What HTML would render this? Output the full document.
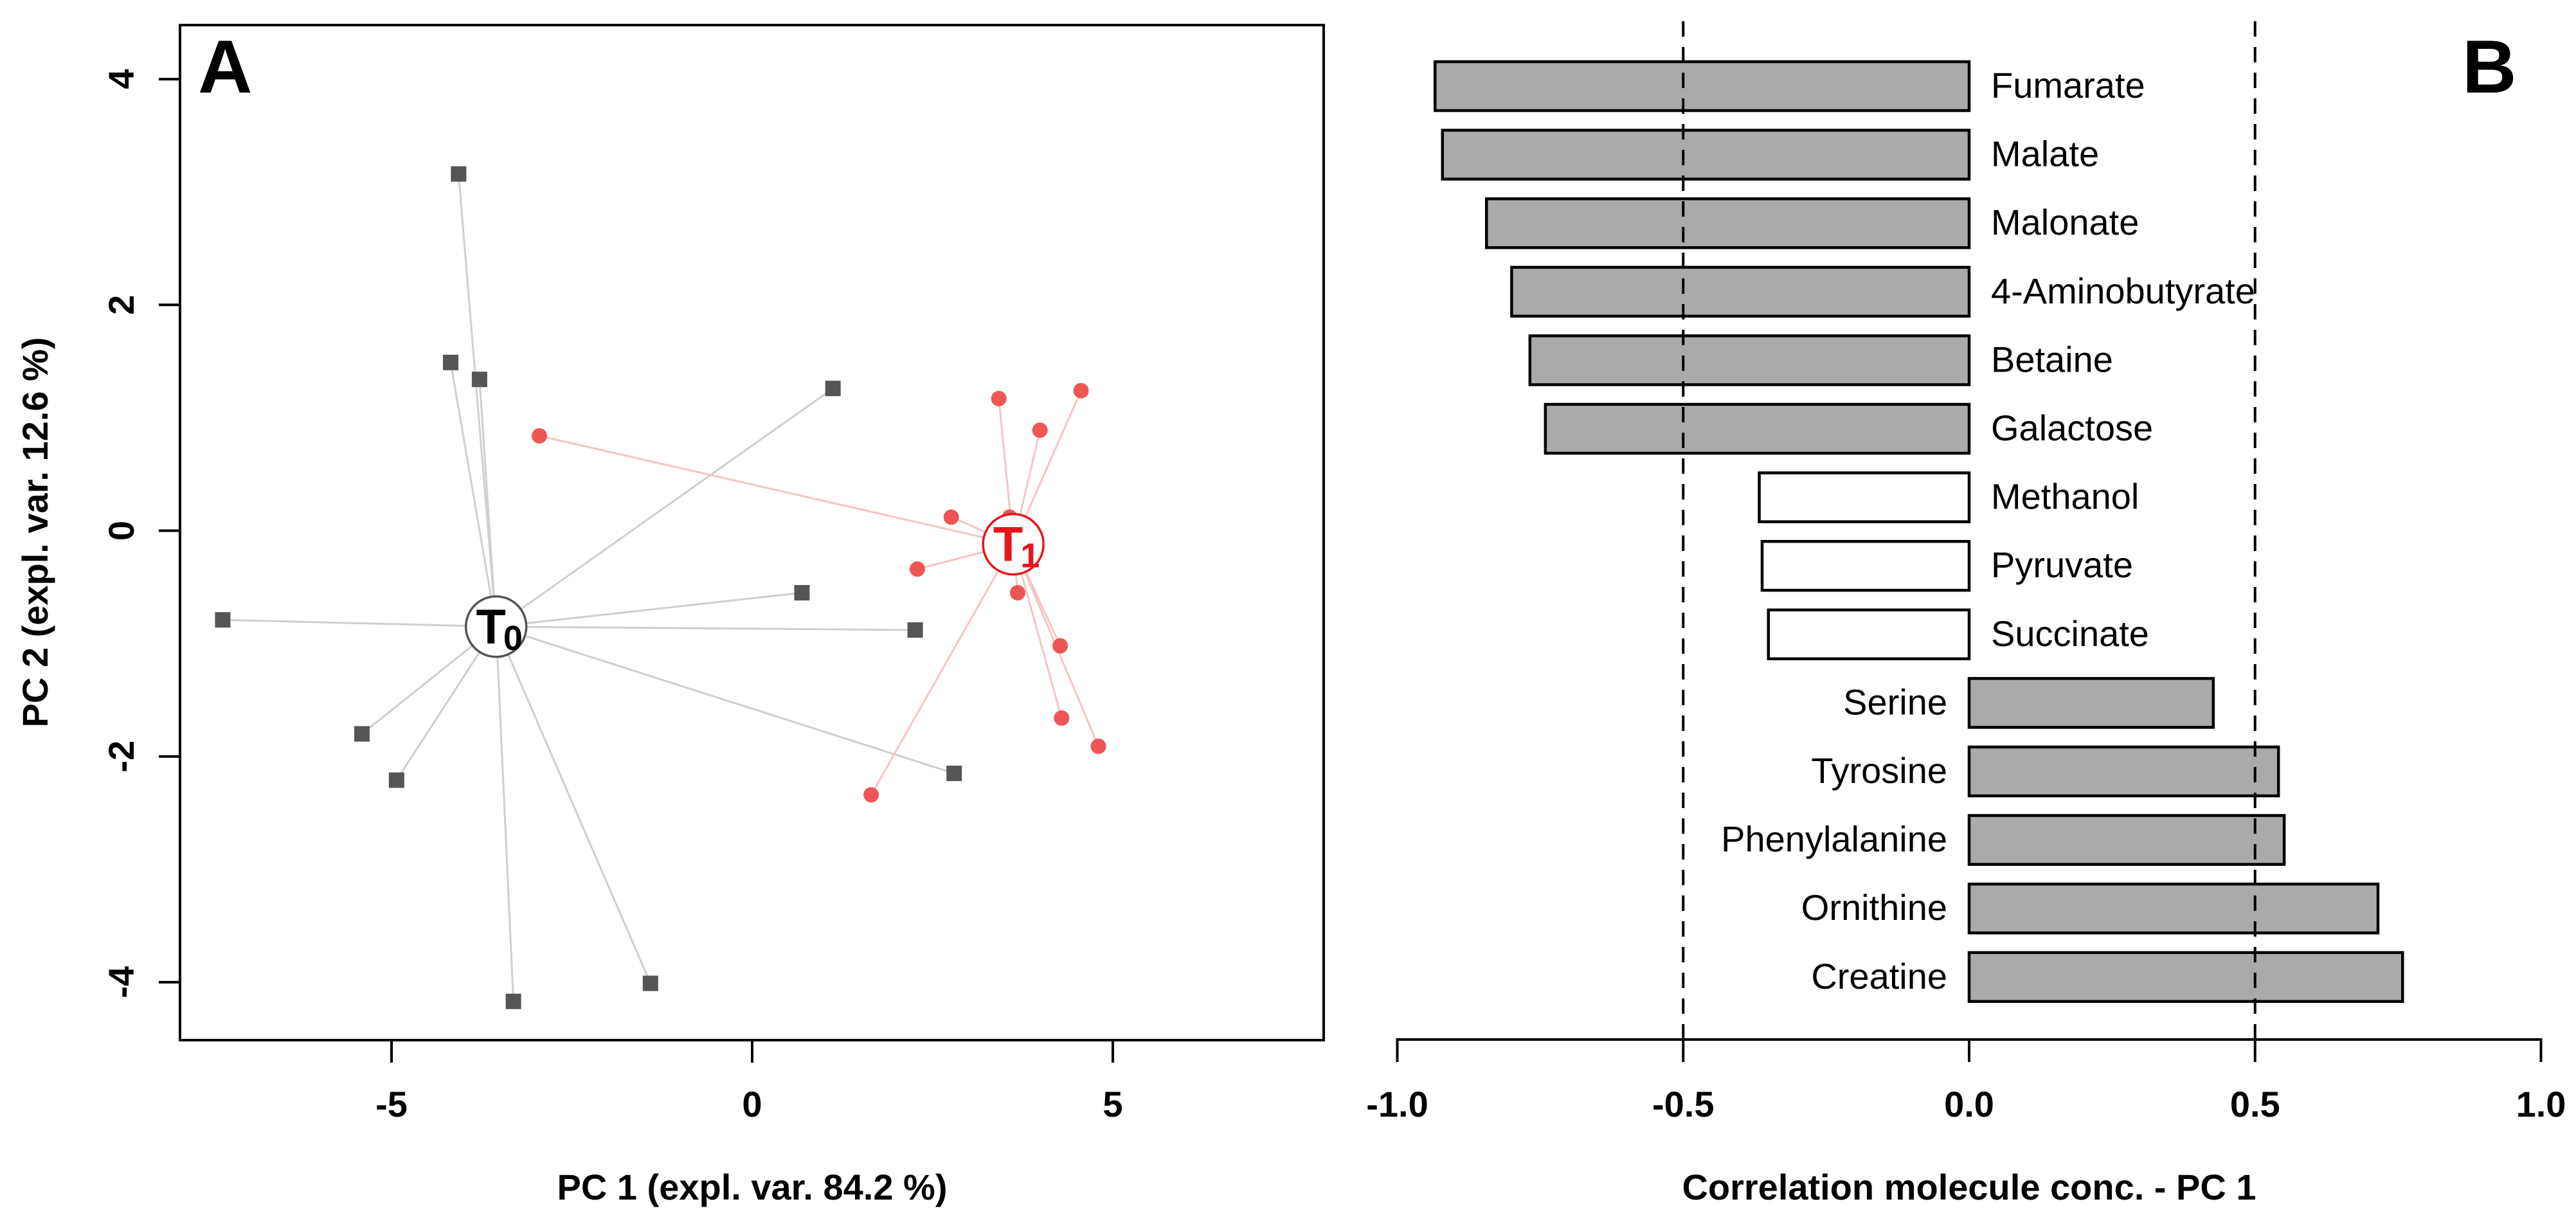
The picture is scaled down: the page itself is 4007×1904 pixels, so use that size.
<!DOCTYPE html>
<html><head><meta charset="utf-8"><style>
html,body{margin:0;padding:0;background:#fff;}
svg{display:block;font-family:"Liberation Sans",Arial,sans-serif;}
</style></head><body>
<svg id="fig" width="4007" height="1904" viewBox="0 0 4007 1904" xmlns="http://www.w3.org/2000/svg">
<g id="panelA"></g>
<g id="panelB"></g>
</svg>
<script>
// ---------- Panel A data ----------
const t0X = [-4.07,-4.18,-3.78,1.12,-7.34,0.69,2.26,-5.41,-4.93,2.80,-1.41,-3.31];
const t0Y = [3.16,1.49,1.34,1.26,-0.79,-0.55,-0.88,-1.80,-2.21,-2.15,-4.01,-4.17];
const t1X = [-2.95,3.42,4.56,3.99,2.76,3.57,2.29,3.68,4.27,4.29,4.80,1.65];
const t1Y = [0.84,1.17,1.24,0.89,0.12,0.12,-0.34,-0.55,-1.02,-1.66,-1.91,-2.34];
const centroidX = [-3.55, 3.62];
const centroidY = [-0.85, -0.12];
const aXTicks = [-5,0,5];
const aYTicks = [4,2,0,-2,-4];
// ---------- Panel B data ----------
const molecules = ["Fumarate","Malate","Malonate","4-Aminobutyrate","Betaine","Galactose","Methanol","Pyruvate","Succinate","Serine","Tyrosine","Phenylalanine","Ornithine","Creatine"];
const correlations = [-0.934,-0.921,-0.844,-0.800,-0.768,-0.741,-0.367,-0.362,-0.351,0.427,0.541,0.551,0.715,0.758];
const significant = [true,true,true,true,true,true,false,false,false,true,true,true,true,true];
const bTicks = [-1.0,-0.5,0.0,0.5,1.0];
const bTickLabels = ["-1.0","-0.5","0.0","0.5","1.0"];
const thresholds = [-0.5,0.5];

const NS="http://www.w3.org/2000/svg";
function mk(parent,tag,attrs,text){const e=document.createElementNS(NS,tag);for(const k in attrs)e.setAttribute(k,attrs[k]);if(text!==undefined)e.textContent=text;parent.appendChild(e);return e;}

// ---------- Panel A ----------
const A=document.getElementById('panelA');
const ax=v=>1170+v*112.2;
const ay=v=>825.5-v*175.6;
t0X.forEach((x,i)=>{const l=mk(A,'line',{x1:ax(centroidX[0]),y1:ay(centroidY[0]),x2:ax(x),y2:ay(t0Y[i]),stroke:'#cfcfcf','stroke-width':3});

});
t1X.forEach((x,i)=>{const l=mk(A,'line',{x1:ax(centroidX[1]),y1:ay(centroidY[1]),x2:ax(x),y2:ay(t1Y[i]),stroke:'#f7c4c4','stroke-width':3});

});
t0X.forEach((x,i)=>{const r=mk(A,'rect',{x:ax(x)-12,y:ay(t0Y[i])-12,width:24,height:24,fill:'#555'});

});
t1X.forEach((x,i)=>{const c=mk(A,'circle',{cx:ax(x),cy:ay(t1Y[i]),r:12,fill:'#f05555'});

});
[["T","0","#000","#555","t0-centroid"],["T","1","#e8141b","#e8141b","t1-centroid"]].forEach((c,i)=>{
  const g=mk(A,'g',{});
  
  
  const cx=ax(centroidX[i]),cy=ay(centroidY[i]);
  mk(g,'circle',{cx:cx,cy:cy,r:47,fill:'#fff',stroke:c[3],'stroke-width':3.5});
  const t=mk(g,'text',{x:cx+3,y:cy+26,'text-anchor':'middle','font-size':76,'font-weight':'bold',fill:c[2],'letter-spacing':'-4'});
  mk(t,'tspan',{},c[0]);
  mk(t,'tspan',{'font-size':54,dy:10},c[1]);
});
const box=mk(A,'rect',{x:280,y:39,width:1779,height:1579,fill:'none',stroke:'#000','stroke-width':4});


aXTicks.forEach(v=>{mk(A,'line',{x1:ax(v),y1:1618,x2:ax(v),y2:1653,stroke:'#000','stroke-width':4});
const t=mk(A,'text',{x:ax(v),y:1737,'text-anchor':'middle','font-size':56,'font-weight':'bold'},String(v));

});
aYTicks.forEach(v=>{mk(A,'line',{x1:247,y1:ay(v),x2:280,y2:ay(v),stroke:'#000','stroke-width':4});
const t=mk(A,'text',{x:0,y:0,'text-anchor':'middle','font-size':56,'font-weight':'bold',transform:`translate(208,${ay(v)}) rotate(-90)`},String(v));

});
let tt=mk(A,'text',{x:1170,y:1866,'text-anchor':'middle','font-size':56,'font-weight':'bold'},'PC 1 (expl. var. 84.2 %)');


tt=mk(A,'text',{x:0,y:0,'text-anchor':'middle','font-size':56,'font-weight':'bold',transform:'translate(74,828) rotate(-90)'},'PC 2 (expl. var. 12.6 %)');


tt=mk(A,'text',{x:308,y:144,'font-size':117,'font-weight':'bold'},'A');



// ---------- Panel B ----------
const B=document.getElementById('panelB');
const bx=v=>3063+v*889.5;
const by=i=>134+i*106.6;
const barH=76;
molecules.forEach((m,i)=>{
  const v=correlations[i];
  const x0=Math.min(bx(0),bx(v)), w=Math.abs(bx(v)-bx(0));
  const r=mk(B,'rect',{x:x0,y:by(i)-barH/2,width:w,height:barH,fill:significant[i]?'#aaaaaa':'#ffffff',stroke:'#000','stroke-width':4.5});
  
  
  const neg=v<0;
  const t=mk(B,'text',{x:neg?bx(0)+34:bx(0)-34,y:by(i)+18,'text-anchor':neg?'start':'end','font-size':56},m);
  
  
});
thresholds.forEach(v=>{const l=mk(B,'line',{x1:bx(v),y1:33,x2:bx(v),y2:1617,stroke:'#000','stroke-width':4,'stroke-dasharray':'24,16'});

});
const axl=mk(B,'line',{x1:bx(-1),y1:1617,x2:bx(1),y2:1617,stroke:'#000','stroke-width':4});


bTicks.forEach((v,i)=>{mk(B,'line',{x1:bx(v),y1:1615,x2:bx(v),y2:1652,stroke:'#000','stroke-width':4});
const t=mk(B,'text',{x:bx(v),y:1737,'text-anchor':'middle','font-size':56,'font-weight':'bold'},bTickLabels[i]);

});
tt=mk(B,'text',{x:3063,y:1866,'text-anchor':'middle','font-size':56,'font-weight':'bold'},'Correlation molecule conc. - PC 1');


tt=mk(B,'text',{x:3830,y:144,'font-size':117,'font-weight':'bold'},'B');


</script>
</body></html>
